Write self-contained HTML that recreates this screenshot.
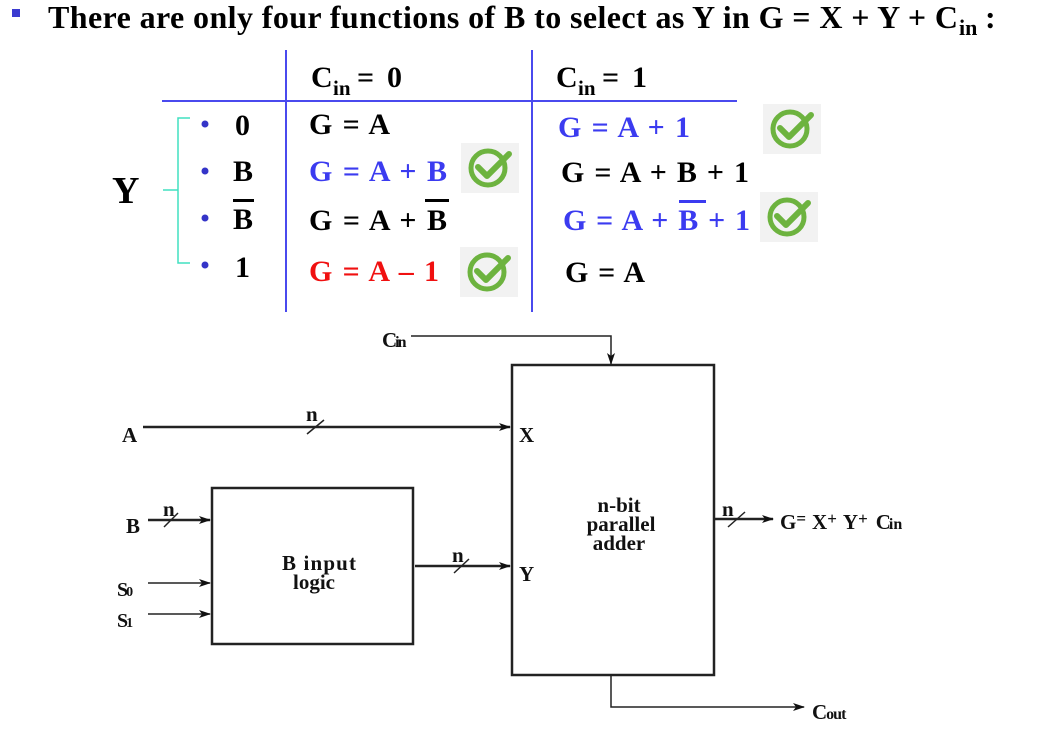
<!DOCTYPE html>
<html><head><style>
body{margin:0;background:#fff;width:1045px;height:724px;overflow:hidden}
svg text{font-family:"Liberation Serif",serif;font-weight:bold}
</style></head><body>
<svg width="1045" height="724" viewBox="0 0 1045 724" xmlns="http://www.w3.org/2000/svg">
<defs>
<marker id="ar" markerWidth="12" markerHeight="8" refX="11" refY="4" orient="auto" markerUnits="userSpaceOnUse"><path d="M0,0 L12,4 L0,8 L3,4 Z" fill="#111"/></marker>
<g id="chk"><rect x="0" y="0" width="58" height="50" fill="#f2f2f2"/><circle cx="27" cy="25" r="17" fill="none" stroke="#6db33f" stroke-width="5"/><path d="M17,24 L26,33 L48,11" fill="none" stroke="#6db33f" stroke-width="6" stroke-linecap="round" stroke-linejoin="round"/></g>
</defs>
<rect x="12" y="9" width="8" height="8" fill="#3b3bd0"/>
<text x="48" y="28" font-size="32" fill="#000" textLength="910" lengthAdjust="spacing">There are only four functions of B to select as Y in G = X + Y + C</text>
<text x="959" y="35" font-size="22">in</text>
<text x="985" y="28" font-size="32">:</text>
<!-- table lines -->
<line x1="162" y1="101" x2="737" y2="101" stroke="#4a4aee" stroke-width="2"/>
<line x1="286" y1="50" x2="286" y2="312" stroke="#4a4aee" stroke-width="2"/>
<line x1="532" y1="50" x2="532" y2="312" stroke="#4a4aee" stroke-width="2"/>
<g font-size="30">
<text x="311" y="87">C</text><text x="333" y="95" font-size="21">in</text><text x="357" y="87" textLength="45" lengthAdjust="spacing">= 0</text>
<text x="556" y="87">C</text><text x="578" y="95" font-size="21">in</text><text x="602" y="87" textLength="45" lengthAdjust="spacing">= 1</text>
<text x="112" y="203" font-size="38">Y</text>
<text x="235" y="135">0</text>
<text x="233" y="181">B</text>
<text x="233" y="229">B</text>
<text x="235" y="277">1</text>
<text x="309" y="134" textLength="81" lengthAdjust="spacing">G = A</text>
<text x="309" y="181" fill="#3b3bf0" textLength="138" lengthAdjust="spacing">G = A + B</text>
<text x="309" y="230" textLength="138" lengthAdjust="spacing">G = A + B</text>
<text x="309" y="281" fill="#f01010" textLength="130" lengthAdjust="spacing">G = A – 1</text>
<text x="558" y="137" fill="#3b3bf0" textLength="132" lengthAdjust="spacing">G = A + 1</text>
<text x="561" y="182" textLength="188" lengthAdjust="spacing">G = A + B + 1</text>
<text x="563" y="230" fill="#3b3bf0" textLength="187" lengthAdjust="spacing">G = A + B + 1</text>
<text x="565" y="282" textLength="80" lengthAdjust="spacing">G = A</text>
</g>
<rect x="233" y="199" width="21" height="3" fill="#000"/>
<rect x="425" y="199" width="24" height="3" fill="#000"/>
<rect x="679" y="200" width="27" height="3" fill="#3b3bf0"/>
<g fill="#3434c8"><circle cx="205" cy="124" r="3.5"/><circle cx="205" cy="171" r="3.5"/><circle cx="205" cy="218" r="3.5"/><circle cx="205" cy="265" r="3.5"/></g>
<path d="M190,118 H178 V190 H163 M178,190 V263 H190" fill="none" stroke="#40e0c0" stroke-width="1.5"/>
<use href="#chk" x="461" y="143"/>
<use href="#chk" x="460" y="247"/>
<use href="#chk" x="763" y="104"/>
<use href="#chk" x="760" y="192"/>
<!-- diagram -->
<g stroke="#222" fill="none">
<rect x="512" y="365" width="202" height="310" stroke-width="2.5"/>
<rect x="212" y="488" width="201" height="156" stroke-width="2.5"/>
<path d="M411,336 H611 V364" stroke-width="1.5" marker-end="url(#ar)"/>
<path d="M611,676 V707 H804" stroke-width="1.5" marker-end="url(#ar)"/>
<line x1="143" y1="427" x2="510" y2="427" stroke-width="2.5" marker-end="url(#ar)"/>
<line x1="415" y1="566" x2="510" y2="566" stroke-width="2.5" marker-end="url(#ar)"/>
<line x1="148" y1="520" x2="210" y2="520" stroke-width="2.5" marker-end="url(#ar)"/>
<line x1="148" y1="583" x2="210" y2="583" stroke-width="1.5" marker-end="url(#ar)"/>
<line x1="148" y1="614" x2="210" y2="614" stroke-width="1.5" marker-end="url(#ar)"/>
<line x1="715" y1="519" x2="773" y2="519" stroke-width="2.5" marker-end="url(#ar)"/>
<g stroke-width="1.5"><line x1="307" y1="434" x2="324" y2="420"/><line x1="164" y1="527" x2="178" y2="513"/><line x1="454" y1="573" x2="469" y2="559"/><line x1="728" y1="527" x2="745" y2="512"/></g>
</g>
<g font-size="21" fill="#111">
<text x="382" y="347" letter-spacing="-2">C<tspan font-size="16">in</tspan></text>
<text x="122" y="442">A</text>
<text x="126" y="533">B</text>
<text x="117" y="596" font-size="20" letter-spacing="-2">S<tspan font-size="14">0</tspan></text>
<text x="117" y="627" font-size="20" letter-spacing="-2">S<tspan font-size="14">1</tspan></text>
<text x="306" y="421">n</text><text x="163" y="516">n</text><text x="452" y="562">n</text><text x="722" y="516">n</text>
<text x="519" y="442">X</text>
<text x="519" y="581">Y</text>
<text x="282" y="570" textLength="74" lengthAdjust="spacing">B input</text>
<text x="293" y="589">logic</text>
<text x="619" y="512" text-anchor="middle">n-bit</text>
<text x="621" y="531" text-anchor="middle">parallel</text>
<text x="619" y="550" text-anchor="middle">adder</text>
<text x="780" y="529">G<tspan font-size="17" dy="-5">=</tspan><tspan dy="5" dx="6">X</tspan><tspan font-size="17" dy="-5">+</tspan><tspan dy="5" dx="6">Y</tspan><tspan font-size="17" dy="-5">+</tspan><tspan dy="5" dx="8" letter-spacing="-2">C</tspan><tspan font-size="16">in</tspan></text>
<text x="812" y="719" letter-spacing="-1">C<tspan font-size="16">out</tspan></text>
</g>
</svg>
</body></html>
